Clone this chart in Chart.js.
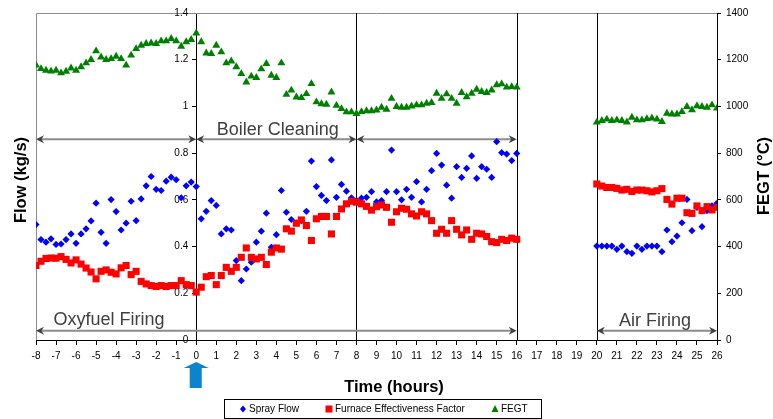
<!DOCTYPE html>
<html lang="en">
<head>
    <meta charset="UTF-8">
    <title>Spray Flow, Furnace Effectiveness Factor and FEGT</title>
    <script src="https://cdn.jsdelivr.net/npm/chart.js"></script>
    <style>
        html, body { margin: 0; padding: 0; background: #fff; }
        #wrap { width: 773px; height: 419px; }
    </style>
</head>
<body>
    <div id="wrap"><canvas id="chart" width="773" height="419"></canvas></div>

    <script>
        // time axis (hours), one entry per reading
        const hours = [
            -8, -7.75, -7.5, -7.25, -7, -6.75, -6.5, -6.25, -6, -5.75, -5.5, -5.25, -5, -4.75, -4.5, -4.25, -4,
            -3.75, -3.5, -3.25, -3, -2.75, -2.5, -2.25, -2, -1.75, -1.5, -1.25, -1, -0.75, -0.5, -0.25, 0,
            0.25, 0.5, 0.75, 1, 1.25, 1.5, 1.75, 2, 2.25, 2.5, 2.75, 3, 3.25, 3.5, 3.75, 4,
            4.25, 4.5, 4.75, 5, 5.25, 5.5, 5.75, 6, 6.25, 6.5, 6.75, 7, 7.25, 7.5, 7.75, 8,
            8.25, 8.5, 8.75, 9, 9.25, 9.5, 9.75, 10, 10.25, 10.5, 10.75, 11, 11.25, 11.5, 11.75, 12,
            12.25, 12.5, 12.75, 13, 13.25, 13.5, 13.75, 14, 14.25, 14.5, 14.75, 15, 15.25, 15.5, 15.75, 16,
            20, 20.25, 20.5, 20.75, 21, 21.25, 21.5, 21.75, 22, 22.25, 22.5, 22.75, 23,
            23.25, 23.5, 23.75, 24, 24.25, 24.5, 24.75, 25, 25.25, 25.5, 25.75, 26
        ];

        // spray flow (kg/s)
        const sprayFlow = [
            0.494, 0.430, 0.419, 0.433, 0.409, 0.411, 0.430, 0.454, 0.414, 0.454, 0.476, 0.510, 0.586, 0.461, 0.414, 0.601, 0.550,
            0.471, 0.500, 0.594, 0.511, 0.604, 0.660, 0.700, 0.645, 0.640, 0.680, 0.697, 0.686, 0.609, 0.660, 0.676, 0.657,
            0.519, 0.551, 0.597, 0.576, 0.454, 0.476, 0.471, 0.340, 0.254, 0.304, 0.333, 0.419, 0.466, 0.543, 0.397, 0.451,
            0.640, 0.547, 0.516, 0.501, 0.511, 0.551, 0.766, 0.657, 0.619, 0.597, 0.771, 0.611, 0.666, 0.637, 0.609, 0.597,
            0.607, 0.611, 0.635, 0.591, 0.597, 0.635, 0.813, 0.635, 0.600, 0.645, 0.611, 0.678, 0.591, 0.645, 0.725, 0.799,
            0.749, 0.663, 0.607, 0.742, 0.696, 0.735, 0.788, 0.692, 0.742, 0.731, 0.696, 0.849, 0.802, 0.796, 0.768, 0.799,
            0.402, 0.402, 0.402, 0.402, 0.388, 0.402, 0.378, 0.371, 0.402, 0.388, 0.402, 0.402, 0.402,
            0.378, 0.471, 0.421, 0.445, 0.502, 0.602, 0.468, 0.568, 0.485, 0.554, 0.574, 0.585
        ];

        // furnace effectiveness factor (left axis)
        const furnaceFactor = [
            0.319, 0.337, 0.349, 0.351, 0.350, 0.357, 0.345, 0.330, 0.343, 0.325, 0.308, 0.291, 0.262, 0.294, 0.300, 0.290, 0.283,
            0.309, 0.319, 0.280, 0.294, 0.251, 0.240, 0.233, 0.229, 0.233, 0.229, 0.233, 0.233, 0.254, 0.237, 0.233, 0.205,
            0.226, 0.271, 0.276, 0.237, 0.276, 0.311, 0.294, 0.311, 0.354, 0.394, 0.354, 0.347, 0.354, 0.323, 0.376, 0.394,
            0.389, 0.476, 0.466, 0.500, 0.514, 0.490, 0.426, 0.519, 0.529, 0.529, 0.454, 0.529, 0.561, 0.583, 0.594, 0.590,
            0.583, 0.572, 0.556, 0.571, 0.578, 0.568, 0.504, 0.549, 0.564, 0.560, 0.540, 0.531, 0.549, 0.540, 0.511, 0.457,
            0.474, 0.457, 0.511, 0.474, 0.450, 0.471, 0.431, 0.457, 0.454, 0.443, 0.421, 0.417, 0.431, 0.426, 0.436, 0.431,
            0.668, 0.659, 0.653, 0.653, 0.649, 0.642, 0.645, 0.636, 0.642, 0.642, 0.639, 0.634, 0.639,
            0.648, 0.602, 0.582, 0.607, 0.607, 0.545, 0.542, 0.574, 0.554, 0.571, 0.557, 0.568
        ];

        // furnace exit gas temperature (degC, right axis)
        const fegt = [
            1176, 1161, 1154, 1151, 1154, 1143, 1150, 1164, 1154, 1169, 1186, 1200, 1237, 1211, 1200, 1204, 1214,
            1204, 1176, 1219, 1247, 1261, 1269, 1271, 1269, 1280, 1280, 1290, 1280, 1257, 1276, 1286, 1314,
            1276, 1228, 1226, 1261, 1233, 1186, 1194, 1169, 1140, 1104, 1129, 1123, 1160, 1183, 1133, 1123,
            1186, 1051, 1069, 1040, 1037, 1054, 1097, 1019, 1011, 1009, 1061, 1004, 990, 976, 976, 969,
            977, 981, 981, 984, 996, 987, 1034, 999, 996, 996, 1001, 1006, 1006, 1013, 1016, 1056,
            1034, 1053, 1034, 1013, 1059, 1041, 1056, 1073, 1063, 1059, 1070, 1092, 1096, 1082, 1084, 1082,
            932, 939, 945, 939, 942, 939, 933, 953, 942, 942, 947, 950, 945,
            935, 970, 967, 967, 977, 999, 985, 1002, 999, 996, 1006, 992
        ];

        const seriesNames = ["Spray Flow", "Furnace Effectiveness Factor", "FEGT"];
        const xTicks = { min: -8, max: 26, step: 1 };
        const flowTicks = { min: 0, max: 1.4, step: 0.2 };
        const tempTicks = { min: 0, max: 1400, step: 200 };

        // phases along the time axis
        const phaseBreaks = [8, 16, 20];
        const topSpans = [[-8, 0], [0, 8], [8, 16]];
        const bottomSpans = [[-8, 16], [20, 26]];
        const phaseNames = ["Boiler Cleaning", "Oxyfuel Firing", "Air Firing"];

        const FONT = "'Liberation Sans', Arial, sans-serif";

        function points(values) {
            return hours.map((h, i) => ({ x: h, y: values[i] }));
        }

        function drawArrowHead(ctx, x, y, dir) {
            ctx.beginPath();
            ctx.moveTo(x, y);
            ctx.lineTo(x - dir * 8, y - 4);
            ctx.lineTo(x - dir * 5.5, y);
            ctx.lineTo(x - dir * 8, y + 4);
            ctx.closePath();
            ctx.fill();
        }

        function drawSpan(ctx, x1, x2, y) {
            ctx.strokeStyle = "#8c8c8c";
            ctx.lineWidth = 2;
            ctx.beginPath();
            ctx.moveTo(x1 + 4, y);
            ctx.lineTo(x2 - 4, y);
            ctx.stroke();
            ctx.fillStyle = "#404040";
            drawArrowHead(ctx, x1, y, -1);
            drawArrowHead(ctx, x2, y, 1);
        }

        function marker(ctx, style, x, y, color) {
            ctx.fillStyle = color;
            ctx.beginPath();
            if (style === "rectRot") {
                ctx.moveTo(x, y - 3.5); ctx.lineTo(x + 3, y); ctx.lineTo(x, y + 3.5); ctx.lineTo(x - 3, y);
            } else if (style === "rect") {
                ctx.rect(x - 3.5, y - 3.5, 7, 7);
            } else {
                ctx.moveTo(x, y - 4); ctx.lineTo(x + 3.5, y + 3); ctx.lineTo(x - 3.5, y + 3);
            }
            ctx.closePath();
            ctx.fill();
        }

        const overlay = {
            id: "overlay",
            beforeDatasetsDraw(chart) {
                const { ctx, chartArea: a, scales: { x, y } } = chart;
                ctx.save();
                // plot frame (left and top edges are grey)
                ctx.strokeStyle = "#8c8c8c";
                ctx.lineWidth = 1;
                ctx.beginPath();
                ctx.moveTo(a.left + 0.5, a.bottom);
                ctx.lineTo(a.left + 0.5, a.top + 0.5);
                ctx.lineTo(a.right, a.top + 0.5);
                ctx.stroke();

                ctx.strokeStyle = "#000";
                phaseBreaks.forEach(h => {
                    const px = Math.round(x.getPixelForValue(h)) + 0.5;
                    ctx.beginPath();
                    ctx.moveTo(px, a.top);
                    ctx.lineTo(px, a.bottom);
                    ctx.stroke();
                });

                // flow axis labels sit left of the axis that crosses at t = 0
                const axisX = x.getPixelForValue(0);
                ctx.fillStyle = "#000";
                ctx.font = "10px " + FONT;
                ctx.textAlign = "right";
                ctx.textBaseline = "middle";
                y.ticks.forEach(t => {
                    ctx.fillText(String(+t.value.toFixed(1)), axisX - 8, y.getPixelForValue(t.value));
                });

                const yTop = y.getPixelForValue(0.86);
                topSpans.forEach(s => drawSpan(ctx, x.getPixelForValue(s[0]), x.getPixelForValue(s[1]), yTop));
                const yBot = y.getPixelForValue(0.04);
                bottomSpans.forEach(s => drawSpan(ctx, x.getPixelForValue(s[0]), x.getPixelForValue(s[1]), yBot));

                ctx.fillStyle = "#404040";
                ctx.font = "18px " + FONT;
                ctx.textAlign = "center";
                ctx.textBaseline = "alphabetic";
                ctx.fillText(phaseNames[0], x.getPixelForValue(4.07), y.getPixelForValue(0.878));
                ctx.fillText(phaseNames[1], x.getPixelForValue(-4.35), y.getPixelForValue(0.064));
                ctx.fillText(phaseNames[2], x.getPixelForValue(22.9), y.getPixelForValue(0.06));
                ctx.restore();
            },
            afterDraw(chart) {
                const { ctx, scales: { x } } = chart;
                ctx.save();
                ctx.fillStyle = "#000";
                ctx.font = "bold 16.5px " + FONT;
                ctx.textAlign = "center";
                ctx.textBaseline = "middle";

                ctx.save();
                ctx.translate(21, 180);
                ctx.rotate(-Math.PI / 2);
                ctx.fillText("Flow (kg/s)", 0, 0);
                ctx.restore();

                ctx.save();
                ctx.translate(764, 176);
                ctx.rotate(-Math.PI / 2);
                ctx.fillText("FEGT (°C)", 0, 0);
                ctx.restore();

                ctx.fillText("Time (hours)", 394, 387);

                // marker pointing at the start of cleaning
                const ax = x.getPixelForValue(0);
                ctx.fillStyle = "#0a84cf";
                ctx.beginPath();
                ctx.moveTo(ax, 362);
                ctx.lineTo(ax + 12.5, 368);
                ctx.lineTo(ax + 5.5, 368);
                ctx.lineTo(ax + 5.5, 388);
                ctx.lineTo(ax - 6.5, 388);
                ctx.lineTo(ax - 6.5, 368);
                ctx.lineTo(ax - 12.5, 368);
                ctx.closePath();
                ctx.fill();

                // legend box
                ctx.strokeStyle = "#000";
                ctx.lineWidth = 1;
                ctx.strokeRect(224.5, 399.5, 317, 19);
                ctx.font = "10px " + FONT;
                ctx.textAlign = "left";
                ctx.textBaseline = "middle";
                const legendX = [243, 329, 495];
                chart.data.datasets.forEach((ds, i) => {
                    marker(ctx, ds.pointStyle, legendX[i], 409, ds.backgroundColor);
                    ctx.fillStyle = "#000";
                    ctx.fillText(ds.label, legendX[i] + 6, 409.5);
                });
                ctx.restore();
            }
        };

        const tickFont = { family: FONT, size: 10 };

        new Chart(document.getElementById("chart"), {
            type: "scatter",
            data: {
                datasets: [
                    {
                        label: seriesNames[0], data: points(sprayFlow), yAxisID: "y",
                        pointStyle: "rectRot", pointRadius: 3.6, borderWidth: 0,
                        backgroundColor: "#0000ff", borderColor: "#0000ff", order: 3
                    },
                    {
                        label: seriesNames[1], data: points(furnaceFactor), yAxisID: "y",
                        pointStyle: "rect", pointRadius: 5, borderWidth: 0,
                        backgroundColor: "#ff0000", borderColor: "#ff0000", order: 2
                    },
                    {
                        label: seriesNames[2], data: points(fegt), yAxisID: "y2",
                        pointStyle: "triangle", pointRadius: 4.6, borderWidth: 0,
                        backgroundColor: "#008000", borderColor: "#008000", order: 1
                    }
                ]
            },
            options: {
                responsive: false,
                animation: false,
                layout: { padding: { left: 36, top: 13, right: 0, bottom: 0 } },
                plugins: { legend: { display: false }, tooltip: { enabled: false } },
                scales: {
                    x: {
                        type: "linear", min: xTicks.min, max: xTicks.max,
                        ticks: { stepSize: xTicks.step, autoSkip: false, maxRotation: 0, color: "#000", font: tickFont, padding: 5 },
                        grid: { drawOnChartArea: false, tickLength: 5, color: "#000" },
                        border: { color: "#000" },
                        afterFit: s => { s.height = 79; s.paddingLeft = 0; s.paddingRight = 0; }
                    },
                    y: {
                        position: { x: 0 }, min: flowTicks.min, max: flowTicks.max,
                        ticks: { stepSize: flowTicks.step, display: false },
                        grid: { drawOnChartArea: false, tickLength: 4, color: "#000" },
                        border: { color: "#000" },
                        afterFit: s => { s.paddingTop = 0; s.paddingBottom = 0; }
                    },
                    y2: {
                        position: "right", min: tempTicks.min, max: tempTicks.max,
                        ticks: { stepSize: tempTicks.step, color: "#000", font: tickFont, padding: 5,
                                 callback: v => String(v) },
                        grid: { drawOnChartArea: false, tickLength: 4, color: "#000" },
                        border: { color: "#000" },
                        afterFit: s => { s.width = 56; s.paddingTop = 0; s.paddingBottom = 0; }
                    }
                }
            },
            plugins: [overlay]
        });
    </script>
</body>
</html>
